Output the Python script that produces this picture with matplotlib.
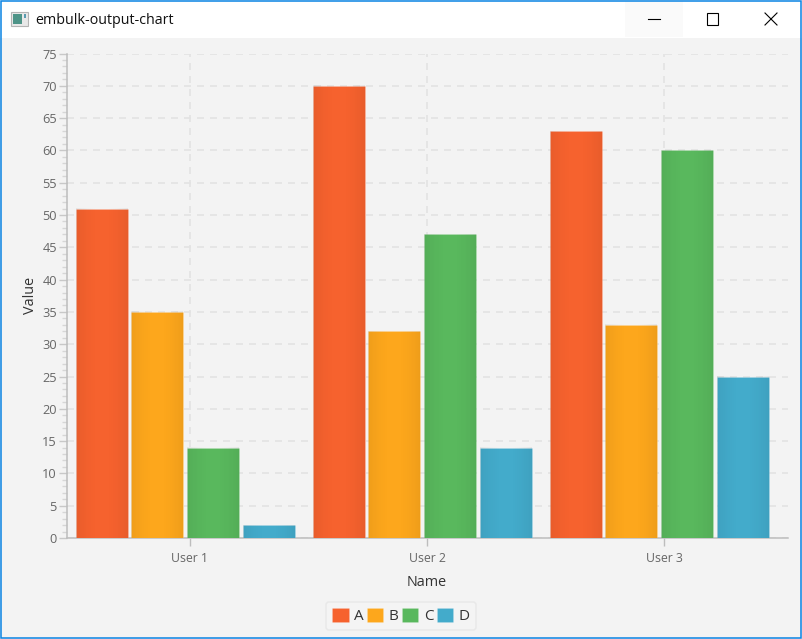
import numpy as np
import matplotlib
matplotlib.use("Agg")
import matplotlib.pyplot as plt
from matplotlib.lines import Line2D
from matplotlib.patches import Rectangle

users = ["User 1", "User 2", "User 3"]
series_names = ["A", "B", "C", "D"]
series_a = [51, 70, 63]
series_b = [35, 32, 33]
series_c = [14, 47, 60]
series_d = [2, 14, 25]
colors = ["#F6622E", "#FDA71C", "#59B85D", "#43ABCB"]

W, H = 802, 639
BG = "#F3F3F3"
plt.rcParams["font.family"] = ["Open Sans", "DejaVu Sans"]

fig = plt.figure(figsize=(W / 100, H / 100), dpi=100, facecolor=BG)


def rect(x0, y0, x1, y1, **kw):
    # window chrome is placed in pixels from the top left corner
    fig.add_artist(Rectangle((x0 / W, 1 - y1 / H), (x1 - x0) / W, (y1 - y0) / H,
                             transform=fig.transFigure, **kw))


def line(xs, ys, **kw):
    fig.add_artist(Line2D([x / W for x in xs], [1 - y / H for y in ys],
                          transform=fig.transFigure, **kw))


# title bar
rect(0, 0, W, 38, facecolor="white", edgecolor="none")
rect(625, 1, 683, 37, facecolor="#FAFAFA", edgecolor="none")
rect(10.5, 11.5, 28, 25.5, facecolor="#E8E8E8", edgecolor="#B4B4B4", linewidth=0.8)
rect(13, 14, 21.5, 24, facecolor="#4E9488", edgecolor="none")
rect(24, 14, 25.5, 18, facecolor="#5A9AB0", edgecolor="none")
fig.text(35 / W, 1 - 20 / H, "embulk-output-chart", fontsize=10.25, color="#101010",
         va="center", ha="left")
line([648, 660], [18.5, 18.5], color="black", linewidth=0.8)
rect(706.5, 13.5, 717.5, 24.5, facecolor="none", edgecolor="black", linewidth=0.8)
line([765, 777], [13, 25], color="black", linewidth=0.8)
line([765, 777], [25, 13], color="black", linewidth=0.8)

# chart
left, right, top, bottom = 66.5, 787.5, 53.5, 538
ax = fig.add_axes([left / W, 1 - bottom / H, (right - left) / W, (bottom - top) / H])
ax.set_facecolor("none")

x = np.arange(len(users))
bar_width = 0.219
bar_step = 0.2352
first_offset = -0.373
all_series = [series_a, series_b, series_c, series_d]
shade = np.zeros((1, 64, 4))
shade[0, :, 3] = np.abs(np.linspace(-1, 1, 64)) ** 2 * 0.06

for i, vals in enumerate(all_series):
    bars = ax.bar(x + first_offset + i * bar_step, vals, bar_width, color=colors[i],
                  edgecolor=(1, 1, 1, 0.12), linewidth=0.6, label=series_names[i], zorder=3)
    for b in bars:
        ax.imshow(shade, extent=(b.get_x(), b.get_x() + b.get_width(), 0, b.get_height()),
                  aspect="auto", zorder=4, interpolation="bilinear")

ax.set_xlim(-0.521, 2.521)
ax.set_ylim(0, 75)
ax.set_xticks(x, users)
ax.set_yticks(np.arange(0, 76, 5))
ax.set_yticks(np.arange(0, 75, 1), minor=True)

ax.grid(True, which="major", color="#E3E3E3", linewidth=1.2, linestyle=(0, (4.2, 3.6)), zorder=1)
ax.set_axisbelow(True)
for s in ["top", "right"]:
    ax.spines[s].set_visible(False)
for s in ["left", "bottom"]:
    ax.spines[s].set_color("#BDBDBD")
    ax.spines[s].set_linewidth(1.1)

ax.tick_params(axis="y", which="major", length=6, width=1, color="#C8C8C8",
               labelsize=9.2, labelcolor="#666666", pad=1)
ax.tick_params(axis="y", which="minor", length=3.6, width=1, color="#D6D6D6")
ax.tick_params(axis="x", which="major", length=6, width=1, color="#BDBDBD",
               labelsize=8.8, labelcolor="#666666", pad=4)

ax.set_xlabel("Name", fontsize=10.4, color="#333333", labelpad=7)
ax.set_ylabel("Value", fontsize=10.4, color="#333333", labelpad=3)

leg = fig.legend(loc="center", bbox_to_anchor=(401 / W, 1 - 616 / H), ncols=4, fontsize=11,
                 frameon=True, facecolor="#F5F5F5", edgecolor="#E6E6E6", fancybox=True,
                 handlelength=1.05, handleheight=1.05, handletextpad=0.35, columnspacing=0.25,
                 borderpad=0.4, borderaxespad=0, labelcolor="#333333")
leg.get_frame().set_linewidth(1.1)

# window border, drawn last
rect(0.7, 0.7, W - 0.7, H - 0.7, facecolor="none", edgecolor="#0A84E3", linewidth=1.1)

fig.savefig("out.png", dpi=100, facecolor=fig.get_facecolor())
